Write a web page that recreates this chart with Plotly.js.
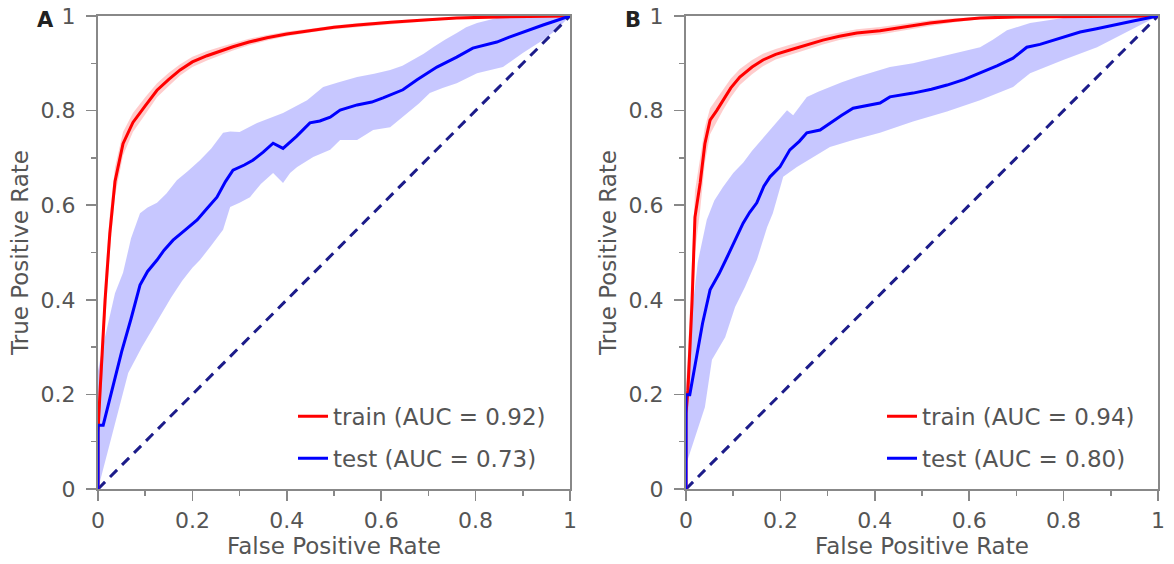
<!DOCTYPE html>
<html>
<head>
<meta charset="utf-8">
<script src="https://cdn.plot.ly/plotly-3.0.1.min.js"></script>
<style>html,body{margin:0;padding:0;background:#fff;}#chart{width:1174px;height:564px;}</style>
</head>
<body>
<div id="chart"></div>
<script>
// ---------- Panel A ----------
var trainA_x = [0, 0, 0.004, 0.01, 0.015, 0.025, 0.036, 0.053, 0.074, 0.1, 0.125, 0.15, 0.174, 0.2, 0.231, 0.26, 0.286, 0.32, 0.358, 0.4, 0.45, 0.5, 0.55, 0.62, 0.7, 0.76, 0.85, 0.92, 1];
var trainA_y = [0, 0.12, 0.2, 0.3, 0.40, 0.54, 0.65, 0.73, 0.775, 0.81, 0.843, 0.866, 0.886, 0.903, 0.916, 0.926, 0.935, 0.945, 0.954, 0.962, 0.969, 0.976, 0.981, 0.987, 0.992, 0.996, 0.998, 0.999, 1];
var trainA_hi = [0.02, 0.15, 0.24, 0.35, 0.45, 0.58, 0.68, 0.755, 0.795, 0.828, 0.858, 0.88, 0.898, 0.914, 0.926, 0.935, 0.943, 0.952, 0.96, 0.967, 0.973, 0.98, 0.985, 0.99, 0.995, 0.998, 0.999, 1, 1];
var trainA_lo = [0, 0.09, 0.16, 0.25, 0.35, 0.50, 0.62, 0.705, 0.755, 0.792, 0.828, 0.852, 0.874, 0.892, 0.906, 0.917, 0.927, 0.938, 0.948, 0.957, 0.965, 0.972, 0.977, 0.983, 0.989, 0.994, 0.997, 0.998, 1];

var testA_x = [0, 0, 0.011, 0.03, 0.05, 0.07, 0.089, 0.105, 0.125, 0.14, 0.159, 0.185, 0.21, 0.23, 0.252, 0.27, 0.286, 0.31, 0.328, 0.35, 0.371, 0.392, 0.42, 0.449, 0.47, 0.492, 0.513, 0.549, 0.58, 0.604, 0.625, 0.646, 0.676, 0.7, 0.718, 0.74, 0.76, 0.794, 0.82, 0.845, 0.87, 0.9, 0.92, 0.943, 0.97, 1];
var testA_y = [0, 0.135, 0.135, 0.21, 0.29, 0.36, 0.431, 0.46, 0.484, 0.505, 0.526, 0.548, 0.569, 0.592, 0.617, 0.65, 0.674, 0.685, 0.695, 0.712, 0.731, 0.72, 0.745, 0.774, 0.778, 0.786, 0.801, 0.812, 0.818, 0.827, 0.835, 0.844, 0.865, 0.88, 0.892, 0.903, 0.913, 0.932, 0.938, 0.945, 0.955, 0.966, 0.973, 0.981, 0.99, 1];
var testA_hiX = [0, 0.01, 0.036, 0.053, 0.07, 0.089, 0.105, 0.125, 0.145, 0.167, 0.19, 0.216, 0.24, 0.265, 0.28, 0.3, 0.337, 0.365, 0.392, 0.443, 0.477, 0.51, 0.549, 0.585, 0.619, 0.645, 0.667, 0.69, 0.71, 0.735, 0.76, 0.78, 0.803, 0.845, 0.9, 1];
var testA_hiY = [0.25, 0.3, 0.414, 0.457, 0.53, 0.583, 0.595, 0.605, 0.625, 0.653, 0.672, 0.695, 0.72, 0.753, 0.756, 0.755, 0.774, 0.785, 0.795, 0.822, 0.85, 0.86, 0.871, 0.878, 0.886, 0.895, 0.907, 0.92, 0.934, 0.95, 0.964, 0.976, 0.985, 0.996, 1, 1];
var testA_loX = [0, 0.008, 0.025, 0.042, 0.064, 0.093, 0.115, 0.136, 0.155, 0.178, 0.2, 0.216, 0.24, 0.265, 0.28, 0.3, 0.322, 0.345, 0.371, 0.392, 0.407, 0.422, 0.456, 0.492, 0.513, 0.549, 0.583, 0.619, 0.655, 0.68, 0.703, 0.73, 0.76, 0.803, 0.858, 0.9, 0.943, 0.97, 1];
var testA_loY = [0, 0.034, 0.1, 0.16, 0.245, 0.3, 0.338, 0.372, 0.405, 0.44, 0.468, 0.484, 0.515, 0.548, 0.596, 0.605, 0.617, 0.645, 0.668, 0.647, 0.668, 0.681, 0.702, 0.717, 0.738, 0.738, 0.759, 0.765, 0.795, 0.815, 0.837, 0.848, 0.858, 0.879, 0.892, 0.922, 0.949, 0.97, 1];

// ---------- Panel B ----------
var trainB_x = [0, 0, 0.004, 0.008, 0.013, 0.019, 0.03, 0.04, 0.051, 0.065, 0.078, 0.095, 0.114, 0.14, 0.163, 0.19, 0.22, 0.255, 0.29, 0.325, 0.362, 0.411, 0.46, 0.517, 0.57, 0.623, 0.7, 0.8, 0.9, 1];
var trainB_y = [0, 0.16, 0.209, 0.3, 0.40, 0.575, 0.647, 0.73, 0.78, 0.8, 0.822, 0.848, 0.871, 0.892, 0.907, 0.919, 0.928, 0.939, 0.949, 0.957, 0.964, 0.969, 0.977, 0.985, 0.991, 0.996, 0.998, 0.999, 1, 1];
var trainB_hi = [0.05, 0.22, 0.28, 0.38, 0.48, 0.63, 0.7, 0.765, 0.805, 0.825, 0.845, 0.868, 0.888, 0.907, 0.92, 0.93, 0.939, 0.949, 0.958, 0.965, 0.972, 0.977, 0.984, 0.991, 0.995, 0.998, 0.999, 1, 1, 1];
var trainB_lo = [0, 0.10, 0.15, 0.22, 0.32, 0.5, 0.59, 0.69, 0.75, 0.775, 0.8, 0.828, 0.854, 0.877, 0.894, 0.908, 0.917, 0.929, 0.94, 0.949, 0.956, 0.961, 0.97, 0.979, 0.987, 0.993, 0.996, 0.998, 0.999, 1];

var testB_x = [0, 0, 0.008, 0.02, 0.035, 0.051, 0.07, 0.087, 0.105, 0.121, 0.135, 0.15, 0.165, 0.178, 0.199, 0.21, 0.22, 0.24, 0.256, 0.284, 0.3, 0.311, 0.33, 0.354, 0.38, 0.411, 0.432, 0.481, 0.52, 0.553, 0.59, 0.623, 0.66, 0.693, 0.722, 0.75, 0.778, 0.835, 0.87, 0.905, 0.95, 1];
var testB_y = [0, 0.199, 0.199, 0.27, 0.35, 0.421, 0.455, 0.49, 0.527, 0.562, 0.585, 0.605, 0.64, 0.66, 0.681, 0.7, 0.717, 0.735, 0.753, 0.759, 0.77, 0.776, 0.79, 0.805, 0.81, 0.816, 0.829, 0.837, 0.845, 0.854, 0.866, 0.879, 0.895, 0.911, 0.934, 0.94, 0.949, 0.966, 0.973, 0.981, 0.99, 1];
var testB_hiX = [0, 0.01, 0.025, 0.044, 0.06, 0.078, 0.1, 0.121, 0.14, 0.163, 0.19, 0.214, 0.227, 0.256, 0.28, 0.305, 0.33, 0.362, 0.4, 0.432, 0.481, 0.553, 0.623, 0.65, 0.68, 0.729, 0.799, 0.9, 1];
var testB_hiY = [0.2, 0.35, 0.48, 0.569, 0.61, 0.638, 0.668, 0.69, 0.715, 0.742, 0.775, 0.801, 0.79, 0.829, 0.84, 0.85, 0.86, 0.871, 0.882, 0.892, 0.9, 0.918, 0.934, 0.95, 0.97, 0.985, 0.996, 1, 1];
var testB_loX = [0, 0.002, 0.019, 0.04, 0.055, 0.083, 0.104, 0.125, 0.15, 0.172, 0.184, 0.206, 0.235, 0.269, 0.305, 0.354, 0.411, 0.481, 0.553, 0.623, 0.693, 0.729, 0.799, 0.871, 0.941, 1];
var testB_loY = [0, 0.057, 0.11, 0.173, 0.273, 0.321, 0.385, 0.427, 0.484, 0.554, 0.583, 0.66, 0.681, 0.702, 0.723, 0.738, 0.753, 0.777, 0.798, 0.822, 0.85, 0.879, 0.907, 0.934, 0.97, 1];

var chanceX = [0, 1];
var chanceY = [0, 1];

var tickVals = [0, 0.2, 0.4, 0.6, 0.8, 1];
var tickText = ['0', '0.2', '0.4', '0.6', '0.8', '1'];
var trainNames = ['train (AUC = 0.92)', 'train (AUC = 0.94)'];
var testNames = ['test (AUC = 0.73)', 'test (AUC = 0.80)'];
var panelLabels = ['A', 'B'];

function rev(a) { return a.slice().reverse(); }
function band(hx, hy, lx, ly, xa, ya, color) {
  return {x: hx.concat(rev(lx)), y: hy.concat(rev(ly)), xaxis: xa, yaxis: ya, type: 'scatter',
          mode: 'lines', fill: 'toself', fillcolor: color, line: {width: 0, color: color},
          showlegend: false, hoverinfo: 'skip'};
}
function line(x, y, xa, ya, color, name, leg, grp) {
  return {x: x, y: y, xaxis: xa, yaxis: ya, type: 'scatter', mode: 'lines', name: name,
          line: {color: color, width: 3}, legend: leg, legendgroup: grp, showlegend: true};
}
function diag(xa, ya) {
  return {x: chanceX, y: chanceY, xaxis: xa, yaxis: ya, type: 'scatter', mode: 'lines',
          line: {color: '#1c1c8a', width: 3, dash: '10px,7px'}, showlegend: false, hoverinfo: 'skip'};
}
var RED_BAND = 'rgba(255,0,0,0.2)';
var BLUE_BAND = 'rgba(0,0,255,0.22)';

var data = [
  band(trainA_x, trainA_hi, trainA_x, trainA_lo, 'x', 'y', RED_BAND),
  band(testA_hiX, testA_hiY, testA_loX, testA_loY, 'x', 'y', BLUE_BAND),
  diag('x', 'y'),
  line(trainA_x, trainA_y, 'x', 'y', '#ff0000', trainNames[0], 'legend', 'a1'),
  line(testA_x, testA_y, 'x', 'y', '#0000ff', testNames[0], 'legend', 'a2'),
  band(trainB_x, trainB_hi, trainB_x, trainB_lo, 'x2', 'y2', RED_BAND),
  band(testB_hiX, testB_hiY, testB_loX, testB_loY, 'x2', 'y2', BLUE_BAND),
  diag('x2', 'y2'),
  line(trainB_x, trainB_y, 'x2', 'y2', '#ff0000', trainNames[1], 'legend2', 'b1'),
  line(testB_x, testB_y, 'x2', 'y2', '#0000ff', testNames[1], 'legend2', 'b2')
];

var FONT = 'DejaVu Sans, sans-serif';
var GRAY = '#555555';
function xax(dom, anchor) {
  return {domain: dom, anchor: anchor, range: [0, 1], fixedrange: true,
          tickvals: tickVals, ticktext: tickText, ticks: 'outside', ticklen: 10, tickwidth: 1.5, tickcolor: '#888',
          minor: {dtick: 0.1, tick0: 0, ticks: 'outside', ticklen: 5, tickwidth: 1.5, tickcolor: '#888'},
          showline: true, mirror: true, linecolor: '#888', linewidth: 2, showgrid: false, zeroline: false,
          tickfont: {family: FONT, size: 22, color: GRAY}, ticklabelstandoff: 1,
          title: {text: 'False Positive Rate', font: {family: FONT, size: 23, color: GRAY}, standoff: 5}};
}
function yax(anchor) {
  return {domain: [75/564, 548/564], anchor: anchor, range: [0, 1], fixedrange: true,
          tickvals: tickVals, ticktext: tickText, ticks: 'outside', ticklen: 10, tickwidth: 1.5, tickcolor: '#888',
          minor: {dtick: 0.1, tick0: 0, ticks: 'outside', ticklen: 5, tickwidth: 1.5, tickcolor: '#888'},
          showline: true, mirror: true, linecolor: '#888', linewidth: 2, showgrid: false, zeroline: false,
          tickfont: {family: FONT, size: 22, color: GRAY}, ticklabelstandoff: 6,
          title: {text: 'True Positive Rate', font: {family: FONT, size: 23, color: GRAY}, standoff: 6}};
}
function legendCfg(x) {
  return {x: x, xanchor: 'left', y: 0.30, yanchor: 'top', bgcolor: 'rgba(0,0,0,0)',
          font: {family: FONT, size: 23, color: GRAY}, tracegroupgap: 9, traceorder: 'grouped',
          itemclick: false, itemdoubleclick: false};
}

var layout = {
  width: 1174, height: 564,
  margin: {l: 0, r: 0, t: 0, b: 0},
  paper_bgcolor: '#ffffff', plot_bgcolor: '#ffffff',
  showlegend: true,
  xaxis: xax([98/1174, 570/1174], 'y'),
  yaxis: yax('x'),
  xaxis2: xax([686/1174, 1158/1174], 'y2'),
  yaxis2: yax('x2'),
  legend: legendCfg(293/1174),
  legend2: legendCfg(882/1174),
  annotations: [
    {text: '<b>' + panelLabels[0] + '</b>', xref: 'paper', yref: 'paper', x: 45/1174, y: 1 - 20/564,
     xanchor: 'center', yanchor: 'middle', showarrow: false, font: {family: FONT, size: 21, color: '#222'}},
    {text: '<b>' + panelLabels[1] + '</b>', xref: 'paper', yref: 'paper', x: 633/1174, y: 1 - 20/564,
     xanchor: 'center', yanchor: 'middle', showarrow: false, font: {family: FONT, size: 21, color: '#222'}}
  ]
};

Plotly.newPlot('chart', data, layout, {staticPlot: true, displayModeBar: false});
</script>
</body>
</html>
